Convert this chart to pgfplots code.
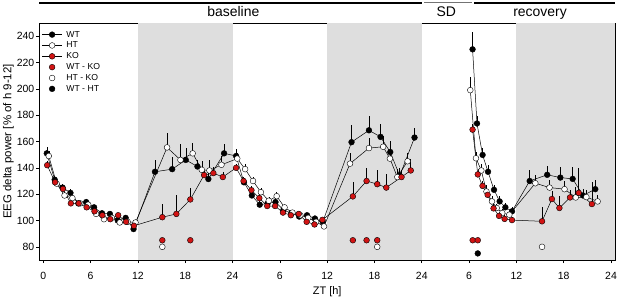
\documentclass[border=0pt]{standalone}
\usepackage{pgfplots}
\pgfplotsset{compat=1.18}
\usepackage{pgfplotstable}
\usepackage{fontspec}
\setmainfont{Liberation Sans}
\definecolor{kored}{RGB}{210,20,20}
\definecolor{bgshade}{RGB}{222,222,222}

\pgfplotstableread{
x y e
0.45 151 5
1.45 131 3
2.45 125 3
3.45 121 3
4.45 113 2
5.45 114 2
6.45 110 2
7.45 105.5 2
8.45 105 2
9.45 100 2
10.45 102 2
11.45 93.5 2
14.17 137 9
16.35 139 9
18.07 146 9
19.55 141 5
20.94 131.5 6
22.93 151 7
24.45 149 5
25.45 129 3
26.45 119 3
27.45 112 3
28.45 113 3
29.45 114 3
30.45 108 2
31.45 105.5 2
32.45 103 2
33.45 104 2
34.45 101.5 2
35.45 99 2
39.09 159.5 13
41.3 168.5 11
42.77 163.5 10
44.0 152 8
45.2 134 6
47.08 163 7
}\wtbase

\pgfplotstableread{
x y e
0.7 149 4
1.7 128 3
2.7 119 3
3.7 117 2
4.7 113 2
5.7 112 2
6.7 105 2
7.7 101 2
8.7 102 2
9.7 98.5 2
10.7 99 2
11.7 98.5 2
15.7 155.5 11
17.4 146 12
18.95 151 8
20.1 138.5 7
21.07 138 8
22.6 142.3 7
24.6 147 4
25.6 139 4
26.6 130 3
27.6 121.5 3
28.6 115 3
29.6 118.5 3
30.6 110 2
31.6 106 2
32.6 104 2
33.6 102 2
34.6 99 2
35.6 95.5 2
38.9 143.2 8
41.3 155 8
43.1 156 8
43.96 147 13
44.9 133 6
46.2 145 6
}\htbase

\pgfplotstableread{
x y e
0.5 142 3
1.5 129 3
2.5 124 3
3.5 113 2
4.5 113 2
5.5 110 2
6.5 107 2
7.5 104 2
8.5 101 2
9.5 104 2
10.5 99 2
11.5 96 2
15.1 102.5 10
16.88 105 14
18.65 116 9
20.4 134.5 3
21.57 136 5
22.77 133 4
24.45 140 3
25.4 130 3
26.4 123 3
27.4 117 3
28.4 111 2
29.4 111 2
30.4 106 2
31.4 104 2
32.4 105 2
33.4 99 2
34.4 97 2
35.4 100.5 2
39.26 118.3 11
41.0 130 10
42.35 127.6 11
43.5 125 10
45.43 133 5
46.6 138 9
}\kobase

\pgfplotstableread{
x y e
54.44 230 13
55.0 173.7 6
55.71 149.8 5
56.4 137 5
57.16 123.3 4
57.87 114.5 4
58.6 110 3
59.44 107 3
61.68 130 8
63.9 134.7 7
65.57 132.6 8
67.13 131.6 9
68.45 119 5
70.0 123.8 7
}\wtrec

\pgfplotstableread{
x y e
54.15 199 10
54.87 147.3 5
55.55 138 5
56.2 122 5
56.9 114.5 4
57.5 109.5 3
58.2 105.7 3
59.1 104.4 3
62.4 128.3 6
64.2 125 6
66.1 123.8 6
67.52 117.5 8
68.87 117.8 5
70.3 114.5 5
}\htrec

\pgfplotstableread{
x y e
54.44 169 4
55.1 135 4
55.7 126.3 4
56.35 119.5 4
57.1 109.2 4
57.8 103.5 3
58.5 101.2 3
59.44 100.3 2
63.25 99.4 11
64.5 116.3 6
65.45 109.5 9
66.8 117.5 6
67.9 121 19
69.57 112.5 17
}\korec

\pgfplotstableread{
x y
15.1 85
18.65 85
39.26 85
41.0 85
42.35 85
54.45 85
55.1 85
}\sigwtko

\pgfplotstableread{
x y
15.1 80
42.35 80
63.25 80
}\sightko

\pgfplotstableread{
x y
55.1 75
}\sigwtht

\pgfplotsset{
  series/.style={black, line width=0.5pt, mark=*, mark size=2.9bp,
    mark options={line width=0.4pt, draw=black, fill=#1}},
  sig/.style={only marks, mark=*, mark size=2.9bp,
    mark options={line width=0.4pt, draw=black, fill=#1}},
  eb/.style={error bars/y dir=plus, error bars/y explicit, error bars/error mark=none,
    error bars/error bar style={line width=0.5pt, black}},
}

\begin{document}
\begin{tikzpicture}
\path[use as bounding box] (0,0) rectangle (617bp,300bp);
\begin{axis}[
  scale only axis, width=575.7bp, height=237bp,
  at={(39.3bp,40bp)}, anchor=south west,
  xmin=-0.5, xmax=72.5, ymin=70, ymax=250,
  clip=false,
  axis line style={line width=0.6pt},
  xtick={0,6,...,72},
  xticklabels={0,6,12,18,24,6,12,18,24,6,12,18,24},
  ytick={80,100,...,240},
  tick align=outside, major tick length=3bp,
  xtick pos=lower, ytick pos=left,
  tick style={line width=0.6pt, black},
  ticklabel style={font=\fontsize{10.5}{12}\selectfont},
  xticklabel style={yshift=-5.2bp},
  yticklabel style={xshift=1.5bp},
  /pgf/number format/assume math mode=true,
  xlabel={ZT [h]},
  ylabel={EEG delta power [\% of h 9-12]},
  xlabel style={font=\fontsize{11}{13}\selectfont, at={(axis description cs:0.5,-0.135)}, anchor=center},
  ylabel style={font=\fontsize{11.5}{13}\selectfont, at={(axis description cs:-0.0535,0.5)}, anchor=center},
  legend style={at={(axis cs:-0.2,244.3)}, anchor=north west, draw=none, fill=none,
    inner sep=0pt, font=\fontsize{8.7}{9}\selectfont,
    nodes={inner sep=0pt, text height=6.3bp, text depth=1.5bp},
    row sep=3.05bp, column sep=4bp},
  legend cell align=left,
  legend image code/.code={\draw[mark repeat=2,mark phase=2,#1] plot coordinates {(0bp,0bp) (10bp,0bp) (20bp,0bp)};},
]
\fill[bgshade] (axis cs:12,70) rectangle (axis cs:24,250);
\fill[bgshade] (axis cs:36,70) rectangle (axis cs:48,250);
\fill[bgshade] (axis cs:60,70) rectangle (axis cs:72.5,250);

\addlegendimage{series=black}\addlegendentry{WT}
\addlegendimage{series=white}\addlegendentry{HT}
\addlegendimage{series=kored}\addlegendentry{KO}
\addlegendimage{sig=kored}\addlegendentry{WT - KO}
\addlegendimage{sig=white}\addlegendentry{HT - KO}
\addlegendimage{sig=black}\addlegendentry{WT - HT}

\addplot[series=black, eb, forget plot] table[x=x, y=y, y error=e] {\wtbase};
\addplot[series=white, eb, forget plot] table[x=x, y=y, y error=e] {\htbase};
\addplot[series=kored, eb, forget plot] table[x=x, y=y, y error=e] {\kobase};
\addplot[series=black, eb, forget plot] table[x=x, y=y, y error=e] {\wtrec};
\addplot[series=white, eb, forget plot] table[x=x, y=y, y error=e] {\htrec};
\addplot[series=kored, eb, forget plot] table[x=x, y=y, y error=e] {\korec};

\addplot[sig=kored, forget plot] table[x=x, y=y] {\sigwtko};
\addplot[sig=white, forget plot] table[x=x, y=y] {\sightko};
\addplot[sig=black, forget plot] table[x=x, y=y] {\sigwtht};

\draw[line width=1.5pt] (axis cs:-0.5,265.3) -- (axis cs:48.0,265.3);
\draw[line width=0.9pt, black!55] (axis cs:48.3,265.3) -- (axis cs:54.4,265.3);
\draw[line width=1.5pt] (axis cs:54.65,265.3) -- (axis cs:72.5,265.3);
\node[anchor=base, font=\fontsize{14}{16}\selectfont, inner sep=0pt] at (axis cs:24.1,254.8) {baseline};
\node[anchor=base, font=\fontsize{14}{16}\selectfont, inner sep=0pt] at (axis cs:51.1,254.8) {SD};
\node[anchor=base, font=\fontsize{14}{16}\selectfont, inner sep=0pt] at (axis cs:63.0,254.8) {recovery};
\end{axis}
\end{tikzpicture}
\end{document}
